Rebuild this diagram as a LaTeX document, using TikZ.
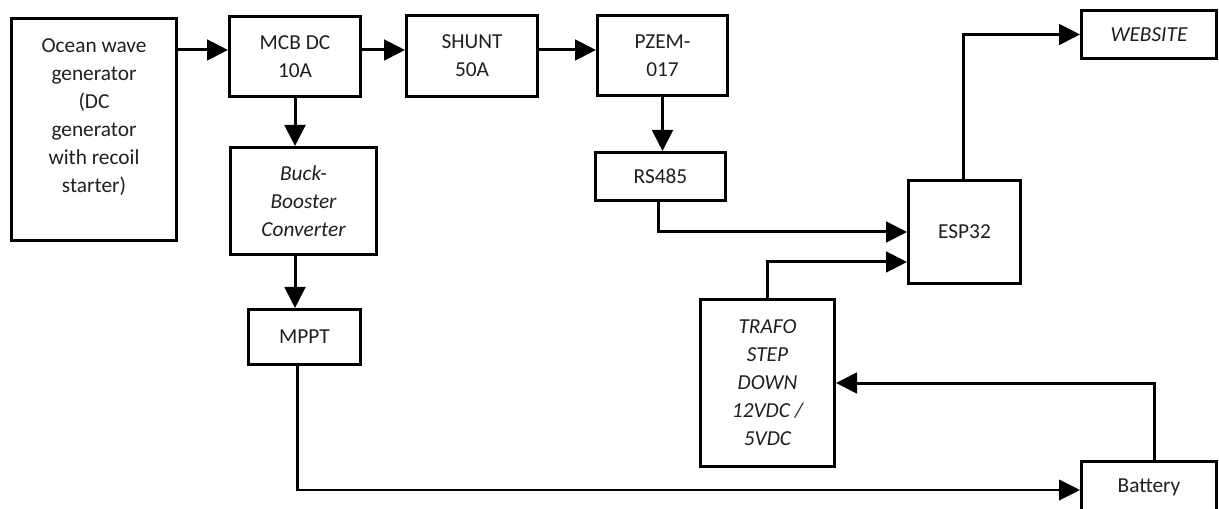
\documentclass[tikz,border=0pt]{standalone}
\usepackage{fontspec}
\setmainfont{Carlito}
\usetikzlibrary{arrows.meta,calc}
\begin{document}
\begin{tikzpicture}[x=0.75pt,y=-0.75pt,
  box/.style={draw, line width=2.25pt, inner sep=0pt, align=center, text=black!88,
    font=\fontsize{16pt}{21pt}\selectfont},
  conn/.style={line width=2.25pt, -{Triangle[length=15.75pt,width=15.5pt]}},
  thinconn/.style={line width=1.6pt, -{Triangle[length=15.75pt,width=15.5pt]}},
]
\useasboundingbox (0,0) rectangle (1219,509);
\clip (0,0) rectangle (1219,509);

\node[box, minimum width=123.75pt, minimum height=166.5pt] (ocean) at (94,129.5)
  {Ocean wave\\generator\\(DC\\generator\\with recoil\\starter)\\\mbox{}};
\node[box, minimum width=98.25pt, minimum height=60pt] (mcb) at (295,56.5) {MCB DC\\10A};
\node[box, minimum width=109.5pt, minimum height=80.25pt] (buck) at (303.5,201)
  {\itshape Buck-\\\itshape Booster\\\itshape Converter};
\node[box, minimum width=84pt, minimum height=41.25pt] (mppt) at (304.5,337) {MPPT};
\node[box, minimum width=98.25pt, minimum height=60.75pt] (shunt) at (472,56) {SHUNT\\50A};
\node[box, minimum width=97.5pt, minimum height=60pt] (pzem) at (662.5,55.5) {PZEM-\\017};
\node[box, minimum width=97.5pt, minimum height=36pt] (rs) at (660.5,176.5) {RS485};
\node[box, minimum width=84pt, minimum height=77.25pt] (esp) at (964.5,232) {ESP32};
\node[box, minimum width=101.25pt, minimum height=36pt] (web) at (1149,34.5) {\itshape WEBSITE};
\node[box, minimum width=100.5pt, minimum height=125.25pt] (trafo) at (767.5,383)
  {\itshape TRAFO\\\itshape STEP\\\itshape DOWN\\\itshape 12VDC /\\\itshape 5VDC};
\node[box, minimum width=101.25pt, minimum height=38.25pt] (bat) at (1149,487) {Battery};

\coordinate (row1) at (0,50);
\draw[conn] (ocean.east |- row1) -- (mcb.west |- row1);
\draw[conn] (mcb.east |- row1) -- (shunt.west |- row1);
\draw[conn] (shunt.east |- row1) -- (pzem.west |- row1);
\draw[conn] (mcb.south) -- (mcb.south |- buck.north);
\draw[conn] (buck.south -| mcb.south) -- (mppt.north -| mcb.south);
\draw[thinconn] ($(mppt.south)+(-7,0)$) |- ($(bat.west)+(0,3)$);
\draw[conn] (pzem.south) -- (pzem.south |- rs.north);
\draw[conn] ($(rs.south)+(-2,0)$) |- (esp.west);
\draw[conn] (trafo.north) |- ($(esp.west)+(0,30)$);
\draw[conn] ($(esp.north)+(-1.5,0)$) |- (web.west);
\draw[conn] ($(bat.north)+(5,0)$) |- (trafo.east);
\end{tikzpicture}
\end{document}
